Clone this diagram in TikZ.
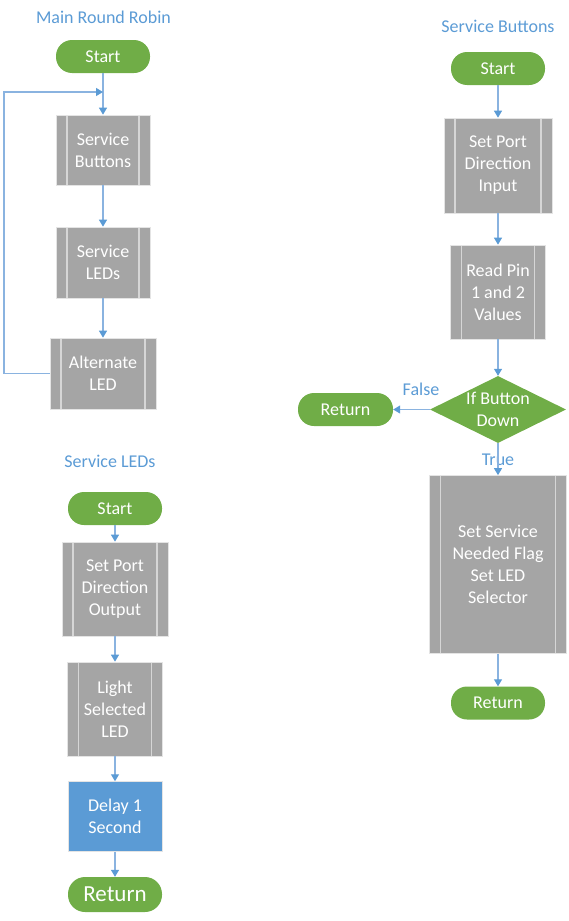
\documentclass[tikz,border=0pt]{standalone}
\usepackage{fontspec}
\setmainfont{Carlito}
\usetikzlibrary{arrows.meta,shapes.geometric}
\definecolor{grn}{HTML}{70AD47}
\definecolor{gry}{HTML}{A5A5A5}
\definecolor{gryb}{HTML}{E4E4E4}
\definecolor{inl}{HTML}{D6D6D6}
\definecolor{blu}{HTML}{5B9BD5}
\definecolor{lnk}{HTML}{8AB3E0}
\definecolor{ttl}{HTML}{5B9BD5}
\begin{document}
\begin{tikzpicture}[x=1pt,y=-1pt,
  txt/.style={font=\fontsize{18}{22}\selectfont, text=white, align=center, inner sep=0pt},
  term/.style={txt, fill=grn, rounded corners=16pt, minimum width=94pt, minimum height=33pt},
  pre/.style={txt, fill=gry, draw=gryb, line width=0.7pt,
    path picture={\draw[draw=inl,line width=1.2pt]
      ([xshift=11pt]path picture bounding box.north west) -- ([xshift=11pt]path picture bounding box.south west)
      ([xshift=-11pt]path picture bounding box.north east) -- ([xshift=-11pt]path picture bounding box.south east);}},
  proc/.style={txt, fill=blu, draw=gryb, line width=0.5pt},
  ttlstyle/.style={font=\fontsize{18}{22}\selectfont, text=ttl, inner sep=0pt},
  arr/.style={draw=lnk, line width=1.2pt, -{Triangle[length=7pt,width=8pt,color=blu]}}
]
\useasboundingbox (0,0) rectangle (568,921);
% Main Round Robin
\node[ttlstyle] (t1) at (103.5,17) {Main Round Robin};
\node[term] (s1) at (103,56.5) {Start};
\node[pre, minimum width=94pt, minimum height=70pt] (sb) at (103,150) {Service\\Buttons};
\node[pre, minimum width=94pt, minimum height=71pt] (sl) at (103,262.5) {Service\\LEDs};
\node[pre, minimum width=106pt, minimum height=71pt] (al) at (103,373.5) {Alternate\\LED};
\coordinate (lp) at (103,92);
\coordinate (lpl) at (4,92);
\draw[arr] (s1.south) -- (sb.north);
\draw[arr] (sb.south) -- (sl.north);
\draw[arr] (sl.south) -- (al.north);
\draw[arr] (al.west) -| (lpl) -- (lp);
% Service LEDs
\node[ttlstyle] (t2) at (110,461) {Service LEDs};
\node[term] (s2) at (115,508.5) {Start};
\node[pre, minimum width=106pt, minimum height=94pt] (so) at (115,589) {Set Port\\Direction\\Output};
\node[pre, minimum width=95pt, minimum height=94pt] (ls) at (115,709) {Light\\Selected\\LED};
\node[proc, minimum width=94pt, minimum height=70pt] (dl) at (115,816.5) {Delay 1\\Second};
\node[term, minimum height=35pt, rounded corners=17pt, font=\fontsize{23}{26}\selectfont] (r2) at (115,894.5) {Return};
\draw[arr] (s2.south) -- (so.north);
\draw[arr] (so.south) -- (ls.north);
\draw[arr] (ls.south) -- (dl.north);
\draw[arr] (dl.south) -- (r2.north);
% Service Buttons
\node[ttlstyle] (t3) at (498,26) {Service Buttons};
\node[term] (s3) at (498,68.5) {Start};
\node[pre, minimum width=108pt, minimum height=95pt] (si) at (498,165.5) {Set Port\\Direction\\Input};
\node[pre, minimum width=95pt, minimum height=94pt] (rp) at (498,292) {Read Pin\\1 and 2\\Values};
\node[diamond, fill=grn, minimum width=136pt, minimum height=67pt, shape aspect=2, inner sep=0pt] (dm) at (498,409.5) {};
\node[txt] (dmt) at (dm.center) {If Button\\Down};
\node[term, minimum width=95pt] (r3) at (345.5,409.5) {Return};
\node[pre, minimum width=137pt, minimum height=178pt] (bx) at (498,564.5) {Set Service\\Needed Flag\\Set LED\\Selector};
\node[term] (r4) at (498,703) {Return};
\node[ttlstyle] (fl) at (421,389) {False};
\node[ttlstyle] (tr) at (498,459.5) {True};
\draw[arr] (s3.south) -- (si.north);
\draw[arr] (si.south) -- (rp.north);
\draw[arr] (rp.south) -- (dm.north);
\draw[arr] (dm.west) -- (r3.east);
\draw[arr] (dm.south) -- (bx.north);
\draw[arr] (bx.south) -- (r4.north);
\end{tikzpicture}
\end{document}
